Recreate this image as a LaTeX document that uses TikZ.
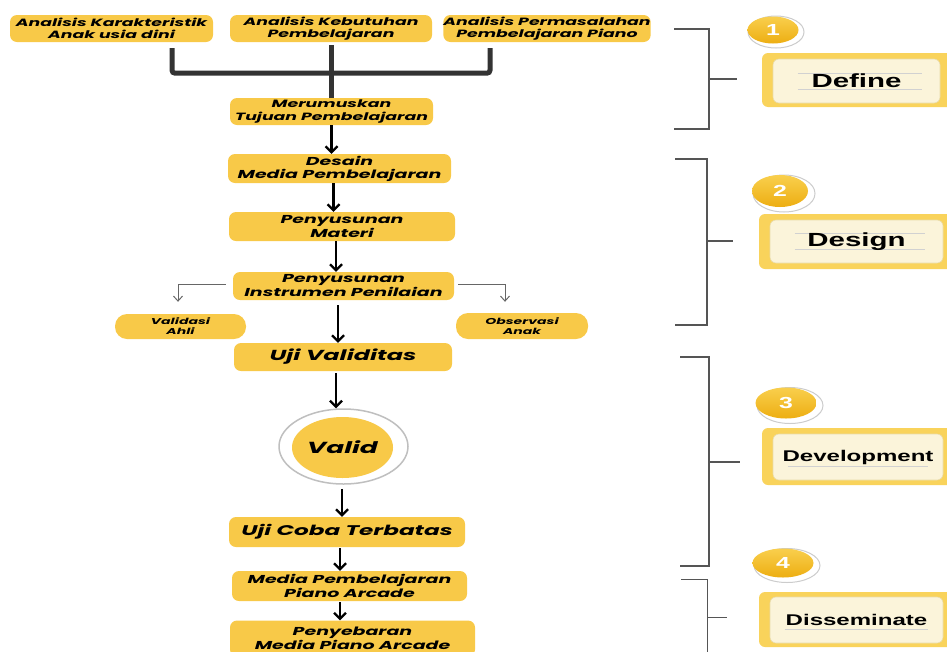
\documentclass[tikz,border=0pt]{standalone}
\usepackage{fontspec}
\usetikzlibrary{arrows.meta,shapes.geometric,calc}
\newfontfamily\flowfont{Poppins}[FakeStretch=1.65]
\newfontfamily\labfont{Liberation Sans}[FakeStretch=1.55]
\definecolor{boxy}{HTML}{F8C948}
\definecolor{labout}{HTML}{F9D35B}
\definecolor{labin}{HTML}{FBF4DA}
\definecolor{labline}{HTML}{E9DBA8}
\definecolor{badgetop}{HTML}{F9CF4D}
\definecolor{badgebot}{HTML}{EDAE12}
\definecolor{brk}{HTML}{555555}
\newcommand\fsz[2]{\fontsize{#1}{#2}\selectfont}
\tikzset{
  flowbox/.style={fill=boxy, rounded corners=7pt, inner sep=0pt, align=center, text=black, font=\flowfont\bfseries\itshape},
  pill/.style={flowbox, rounded corners=12pt},
  arr/.style={line width=2.2pt, draw=black, -{Straight Barb[length=6pt,width=12pt]}},
  thinarr/.style={line width=1pt, draw=black!60, -{Straight Barb[length=5pt,width=9pt]}},
  brack/.style={line width=1.5pt, draw=brk},
  trunk/.style={line width=5pt, draw=black!80, rounded corners=3pt},
  badge/.style={ellipse, inner sep=0pt, top color=badgetop, bottom color=badgebot, text=white, font=\labfont\bfseries\fsz{16}{16}},
  ring/.style={ellipse, inner sep=0pt, fill=white, draw=black!20, line width=1pt},
  labouter/.style={fill=labout, rounded corners=6pt, inner sep=0pt, minimum width=200},
  labinner/.style={fill=labin, draw=labline, line width=0.6pt, rounded corners=6pt, inner sep=0pt, text=black, font=\labfont\bfseries},
  rule/.style={draw=black!18, line width=0.6pt}
}
\begin{document}
\begin{tikzpicture}[x=1pt,y=-1pt]
\useasboundingbox (0,0) rectangle (947,651);
\clip (0,0) rectangle (947,651);

% top analysis boxes
\node[flowbox, minimum width=203, minimum height=27, font=\flowfont\bfseries\itshape\fsz{10.5}{12.5}] (A1) at (111.5,28.5) {Analisis Karakteristik\\Anak usia dini};
\node[flowbox, minimum width=202, minimum height=27, font=\flowfont\bfseries\itshape\fsz{10.5}{12.5}] (A2) at (331,28.5) {Analisis Kebutuhan\\Pembelajaran};
\node[flowbox, minimum width=204, minimum height=27, font=\flowfont\bfseries\itshape\fsz{10.5}{12.5}] (A3) at (547,28.5) {Analisis Permasalahan\\Pembelajaran Piano};

\node[flowbox, minimum width=203, minimum height=27, font=\flowfont\bfseries\itshape\fsz{10.5}{12.5}] (M) at (331.5,111.5) {Merumuskan\\Tujuan Pembelajaran};

% trunk
\draw[trunk] ([xshift=60.5pt,yshift=-6pt]A1.south) |- ([xshift=-57pt,yshift=-31pt]A3.south) -- ([xshift=-57pt,yshift=-6pt]A3.south);
\draw[trunk] ([yshift=-3pt]A2.south) -- (A2.south |- M.north);

\node[flowbox, minimum width=223, minimum height=29, font=\flowfont\bfseries\itshape\fsz{11.5}{13}] (D) at (339.5,168.5) {Desain\\Media Pembelajaran};
\node[flowbox, minimum width=226, minimum height=29, font=\flowfont\bfseries\itshape\fsz{11.5}{14}] (P1) at (342,226.5) {Penyusunan\\Materi};
\node[flowbox, minimum width=221, minimum height=28, font=\flowfont\bfseries\itshape\fsz{11.5}{14}] (P2) at (343.5,286) {Penyusunan\\Instrumen Penilaian};

\node[pill, minimum width=131, minimum height=25, font=\flowfont\bfseries\itshape\fsz{8.5}{10}] (VA) at (180.5,326.5) {Validasi\\Ahli};
\node[pill, minimum width=132, minimum height=26, font=\flowfont\bfseries\itshape\fsz{8.5}{10}] (OA) at (522,326) {Observasi\\Anak};

\node[flowbox, minimum width=218, minimum height=28, font=\flowfont\bfseries\itshape\fsz{14.5}{16}] (UV) at (343,357) {Uji Validitas};

\node[ellipse, draw=black!25, line width=1.5pt, fill=white, minimum width=129, minimum height=75, inner sep=0pt] (Vout) at (343.5,446.5) {};
\node[ellipse, fill=boxy, minimum width=101, minimum height=61, inner sep=0pt, font=\flowfont\bfseries\itshape\fsz{16}{16}] (V) at (342.5,447.5) {Valid};

\node[flowbox, minimum width=236, minimum height=30, font=\flowfont\bfseries\itshape\fsz{14}{16}] (UCT) at (347,532) {Uji Coba Terbatas};
\node[flowbox, minimum width=235, minimum height=30, font=\flowfont\bfseries\itshape\fsz{11.5}{14.5}] (MP) at (349.5,586) {Media Pembelajaran\\Piano Arcade};
\node[flowbox, minimum width=245, minimum height=36, font=\flowfont\bfseries\itshape\fsz{11.5}{14}] (PS) at (352.5,638.5) {Penyebaran\\Media Piano Arcade};

% arrows
\draw[arr] (M.south) -- (M.south |- D.north);
\draw[arr] ([xshift=-6pt]D.south) -- ([xshift=-6pt]D.south |- P1.north);
\draw[arr] ([xshift=-6pt]P1.south) -- ([xshift=-6pt]P1.south |- P2.north);
\draw[arr] ([xshift=-5.5pt,yshift=-5pt]P2.south) -- ([xshift=-5.5pt]P2.south |- UV.north);
\draw[arr] ([xshift=-7pt,yshift=-2pt]UV.south) -- ([xshift=-7pt]UV.south |- Vout.north);
\draw[arr] ([xshift=-1.5pt,yshift=-4pt]Vout.south) -- ([xshift=-1.5pt]Vout.south |- UCT.north);
\draw[arr] ([xshift=-7pt,yshift=-1pt]UCT.south) -- ([xshift=-7pt]UCT.south |- MP.north);
\draw[arr] ([xshift=-9.5pt,yshift=-1pt]MP.south) -- ([xshift=-9.5pt]MP.south |- PS.north);

\draw[thinarr] ([xshift=-7pt,yshift=2pt]P2.west) -| ([xshift=-2.5pt,yshift=12pt]VA.north);
\draw[thinarr] ([xshift=4pt,yshift=2pt]P2.east) -| ([xshift=-17pt,yshift=11pt]OA.north);

% brackets
\coordinate (b1a) at (674,29); \coordinate (b1b) at (709,29); \coordinate (b1c) at (709,129); \coordinate (b1d) at (674,129);
\coordinate (b1m) at (709,79); \coordinate (b1t) at (737,79);
\draw[brack] (b1a) -- (b1b) -- (b1c) -- (b1d);
\draw[brack] (b1m) -- (b1t);
\coordinate (b2a) at (675,159); \coordinate (b2b) at (707,159); \coordinate (b2c) at (707,325); \coordinate (b2d) at (675,325);
\coordinate (b2m) at (707,241); \coordinate (b2t) at (733,241);
\draw[brack] (b2a) -- (b2b) -- (b2c) -- (b2d);
\draw[brack] (b2m) -- (b2t);
\coordinate (b3a) at (680,357); \coordinate (b3b) at (709,357); \coordinate (b3c) at (709,566); \coordinate (b3d) at (680,566);
\coordinate (b3m) at (709,462); \coordinate (b3t) at (740,462);
\draw[brack] (b3a) -- (b3b) -- (b3c) -- (b3d);
\draw[brack] (b3m) -- (b3t);
\coordinate (b4a) at (681,579); \coordinate (b4b) at (707,579); \coordinate (b4c) at (707,660);
\coordinate (b4m) at (707,617); \coordinate (b4t) at (727,617);
\draw[brack, line width=1pt] (b4a) -- (b4b) -- (b4c);
\draw[brack, line width=1pt] (b4m) -- (b4t);

% badges
\node[ring, minimum width=56, minimum height=32] (r1) at (776,32) {};
\node[badge, minimum width=51, minimum height=27] (n1) at (773,30) {1};
\node[ring, minimum width=62, minimum height=37] (r2) at (784,193.5) {};
\node[badge, minimum width=56, minimum height=32] (n2) at (780,191) {2};
\node[ring, minimum width=66, minimum height=36] (r3) at (790,405.5) {};
\node[badge, minimum width=61, minimum height=31] (n3) at (786,403) {3};
\node[ring, minimum width=66, minimum height=34] (r4) at (787,565.5) {};
\node[badge, minimum width=61, minimum height=29] (n4) at (783,563) {4};

% label boxes
\node[labouter, minimum height=54] (L1) at (862,80) {};
\node[labinner, minimum width=167, minimum height=44] (I1) at (856.5,81) {};
\draw[rule] ([xshift=25pt,yshift=8pt]I1.west) -- ([xshift=-18pt,yshift=8pt]I1.east);
\draw[rule] ([xshift=25pt,yshift=-8pt]I1.west) -- ([xshift=-18pt,yshift=-8pt]I1.east);
\node[font=\labfont\bfseries\fsz{19}{19}] (T1) at (I1.center) {Define};

\node[labouter, minimum height=55] (L2) at (859,241.5) {};
\node[labinner, minimum width=173, minimum height=43] (I2) at (856.5,241.5) {};
\draw[rule] ([xshift=25pt,yshift=8pt]I2.west) -- ([xshift=-18pt,yshift=8pt]I2.east);
\draw[rule] ([xshift=25pt,yshift=-8pt]I2.west) -- ([xshift=-18pt,yshift=-8pt]I2.east);
\node[font=\labfont\bfseries\fsz{19}{19}] (T2) at (I2.center) {Design};

\node[labouter, minimum height=57] (L3) at (862,456.5) {};
\node[labinner, minimum width=170, minimum height=46] (I3) at (858,457) {};
\draw[rule] ([xshift=15pt,yshift=-9pt]I3.west) -- ([xshift=-15pt,yshift=-9pt]I3.east);
\node[font=\labfont\bfseries\fsz{15.5}{15.5}] (T3) at (I3.center) {Development};

\node[labouter, minimum height=55] (L4) at (859,619.5) {};
\node[labinner, minimum width=173, minimum height=46] (I4) at (856.5,620) {};
\draw[rule] ([xshift=15pt,yshift=-9pt]I4.west) -- ([xshift=-15pt,yshift=-9pt]I4.east);
\node[font=\labfont\bfseries\fsz{15.5}{15.5}] (T4) at (I4.center) {Disseminate};
\end{tikzpicture}
\end{document}
